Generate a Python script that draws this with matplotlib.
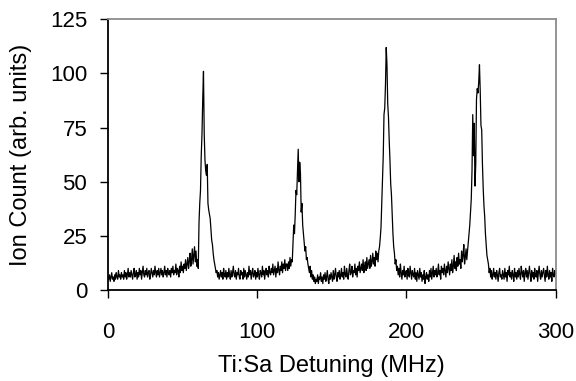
import numpy as np
import matplotlib.pyplot as plt

plt.rcParams['font.family'] = ['Liberation Sans', 'DejaVu Sans']

# detuning axis, 0.5 MHz steps
detuning = np.arange(0, 300.5, 0.5)

# ion counts, one row per 5 MHz
counts = [
    6, 5, 7, 4, 6, 8, 5, 6, 4, 7,
    5, 8, 6, 5, 9, 6, 7, 5, 8, 6,
    7, 5, 9, 6, 8, 5, 7, 10, 6, 8,
    6, 9, 7, 5, 8, 10, 6, 7, 9, 5,
    8, 6, 10, 7, 9, 5, 8, 11, 7, 6,
    9, 7, 10, 6, 8, 9, 5, 7, 10, 8,
    6, 9, 7, 11, 8, 6, 9, 7, 10, 6,
    8, 10, 7, 9, 6, 8, 11, 7, 9, 6,
    10, 8, 7, 9, 6, 10, 8, 11, 7, 9,
    8, 12, 7, 10, 9, 6, 11, 8, 13, 9,
    11, 8, 12, 10, 14, 9, 12, 15, 10, 13,
    17, 11, 14, 19, 12, 16, 20, 13, 18, 11,
    14, 10, 31, 40, 46, 62, 72, 88, 101, 72,
    60, 55, 53, 58, 40, 37, 35, 33, 28, 23,
    21, 17, 14, 12, 10, 8, 9, 6, 8, 5,
    7, 9, 6, 8, 5, 10, 7, 6, 9, 5,
    8, 6, 10, 7, 5, 9, 6, 8, 11, 7,
    6, 9, 5, 8, 7, 10, 6, 5, 9, 7,
    8, 5, 10, 6, 9, 7, 5, 8, 6, 11,
    7, 9, 5, 8, 10, 6, 7, 9, 5, 8,
    6, 10, 7, 5, 9, 8, 6, 11, 7, 9,
    5, 8, 10, 7, 9, 6, 11, 8, 7, 10,
    8, 12, 7, 9, 11, 6, 10, 8, 13, 9,
    7, 11, 9, 13, 8, 12, 10, 14, 9, 12,
    12, 9, 13, 10, 15, 11, 14, 13, 22, 30,
    26, 35, 46, 44, 55, 65, 50, 59, 54, 36,
    40, 30, 26, 22, 18, 20, 14, 15, 12, 10,
    8, 11, 6, 9, 5, 7, 4, 6, 3, 5,
    4, 7, 3, 6, 5, 8, 4, 6, 3, 7,
    5, 8, 4, 6, 9, 5, 3, 7, 5, 8,
    6, 4, 9, 5, 7, 10, 6, 4, 8, 6,
    9, 5, 7, 10, 6, 8, 5, 11, 7, 6,
    10, 7, 5, 9, 12, 7, 8, 11, 6, 9,
    8, 12, 7, 10, 6, 11, 9, 13, 8, 10,
    12, 9, 14, 8, 11, 13, 9, 15, 10, 12,
    14, 10, 16, 11, 13, 17, 12, 15, 11, 18,
    14, 17, 13, 18, 20, 24, 29, 40, 50, 62,
    81, 84, 95, 112, 104, 86, 80, 69, 60, 49,
    44, 35, 26, 20, 17, 12, 14, 9, 11, 7,
    10, 6, 12, 8, 5, 9, 7, 11, 6, 8,
    9, 5, 10, 7, 6, 11, 8, 5, 9, 7,
    6, 10, 5, 8, 4, 9, 7, 5, 10, 6,
    8, 4, 7, 5, 9, 3, 6, 8, 5, 7,
    4, 9, 6, 10, 5, 8, 11, 6, 9, 7,
    10, 6, 8, 12, 7, 9, 5, 11, 8, 10,
    7, 12, 9, 6, 11, 8, 13, 10, 7, 12,
    9, 14, 8, 11, 16, 10, 13, 9, 15, 11,
    17, 12, 14, 10, 18, 13, 16, 21, 12, 15,
    19, 14, 18, 22, 26, 30, 36, 42, 55, 81,
    62, 77, 48, 58, 88, 93, 91, 96, 104, 92,
    76, 74, 58, 47, 39, 34, 26, 21, 16, 14,
    12, 8, 10, 6, 9, 5, 7, 10, 6, 8,
    5, 9, 7, 4, 8, 10, 6, 7, 5, 9,
    7, 5, 10, 6, 8, 4, 9, 7, 11, 6,
    8, 5, 9, 7, 4, 10, 6, 8, 5, 9,
    6, 10, 7, 5, 11, 8, 6, 9, 4, 8,
    10, 6, 9, 5, 8, 11, 7, 4, 9, 6,
    8, 5, 10, 7, 6, 9, 4, 8, 11, 7,
    5, 9, 6, 8, 10, 7, 4, 9, 6, 11,
    7, 5, 9, 6, 8, 4, 10, 7, 6, 9,
    7,
]

x_ticks = [0, 100, 200, 300]
y_ticks = [0, 25, 50, 75, 100, 125]

fig = plt.figure(figsize=(5.76, 3.81), dpi=100)
ax = fig.add_axes([0.1875, 0.2388, 0.777, 0.7105])

ax.plot(detuning, counts, color='black', linewidth=0.9)

ax.set_xlim(0, 300)
ax.set_ylim(0, 125)
ax.set_xticks(x_ticks)
ax.set_yticks(y_ticks)

ax.spines['left'].set_color('black')
ax.spines['bottom'].set_color('black')
ax.spines['left'].set_linewidth(1.3)
ax.spines['bottom'].set_linewidth(1.3)
ax.spines['top'].set_color('#8c8c8c')
ax.spines['right'].set_color('#8c8c8c')
ax.spines['top'].set_linewidth(1.3)
ax.spines['right'].set_linewidth(1.3)

ax.tick_params(axis='x', direction='out', length=6, width=1, pad=17, labelsize=16)
ax.tick_params(axis='y', direction='out', length=6, width=1, pad=9, labelsize=16)

ax.set_xlabel('Ti:Sa Detuning (MHz)', fontsize=17, labelpad=9)
ax.set_ylabel('Ion Count (arb. units)', fontsize=17, labelpad=13)

fig.savefig('out.png', dpi=100)
